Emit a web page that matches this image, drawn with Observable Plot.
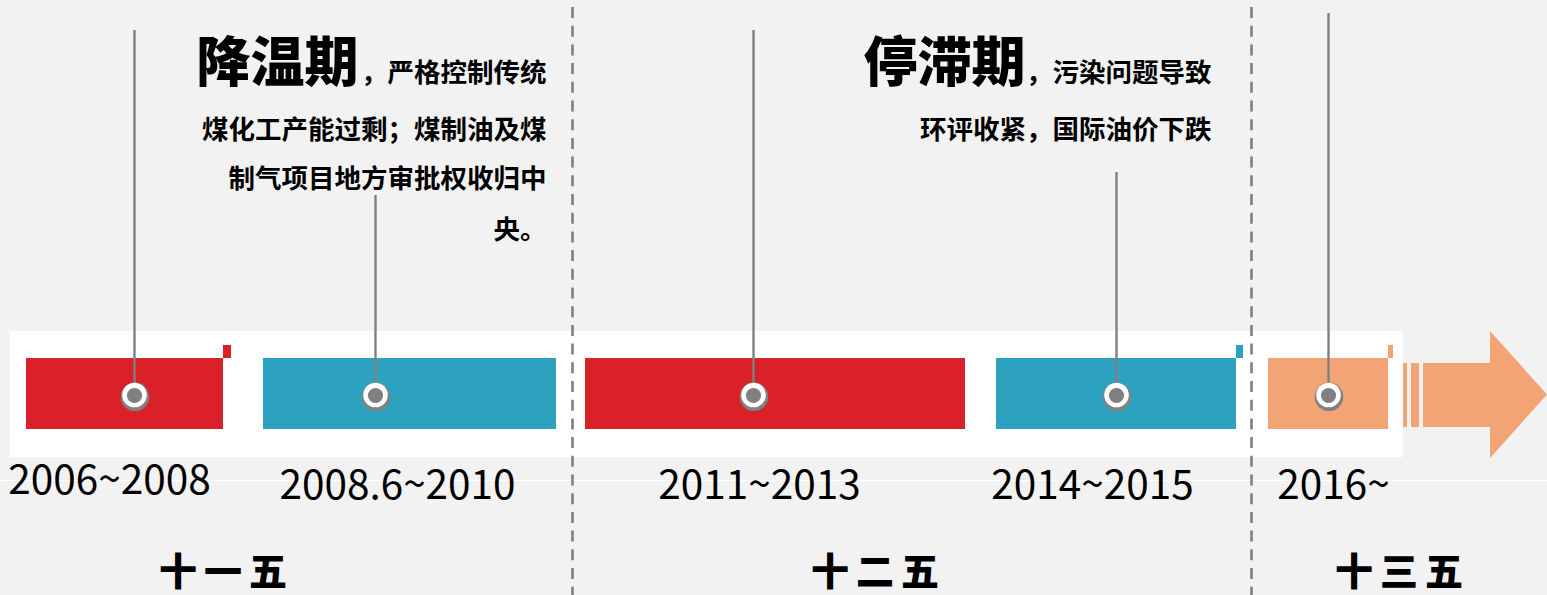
<!DOCTYPE html>
<html>
<head>
<meta charset="utf-8">
<script src="https://cdn.jsdelivr.net/npm/d3@7"></script>
<script src="https://cdn.jsdelivr.net/npm/@observablehq/plot@0.6"></script>
<style>
  html, body { margin: 0; padding: 0; background: #f2f2f2; overflow: hidden; }
  #chart svg { display: block; }
</style>
</head>
<body>
<div id="chart"></div>
<script>
// ---- data ----
const periods = ["2006~2008", "2008.6~2010", "2011~2013", "2014~2015", "2016~"];
const phase = ["降温", "调整", "停滞", "调整", "复苏"];
const periodStart = [26, 263, 585, 996, 1268];   // timeline units
const periodEnd = [223, 556, 965, 1236, 1388];
const pinAt = [134, 375, 753, 1116, 1328];
const pinTop = [30, 195, 30, 172, 13];
const labelAt = [109, 397, 759, 1092, 1333];
const labelBase = [493, 498, 498, 498, 498];
const flagPeriods = [0, 3, 4];
const flagWidth = [8, 7, 5];
const plans = ["十一五", "十二五", "十三五"];
const planCenter = [226, 878, 1402];
const planBreaks = [572, 1251];
const headTitles = ["降温期", "停滞期"];
const headLeft = [196, 863];
const headRight = [546, 1211];
const headLines = [
  ["，严格控制传统", "煤化工产能过剩；煤制油及煤", "制气项目地方审批权收归中", "央。"],
  ["，污染问题导致", "环评收紧，国际油价下跌"]
];
const lineBase = [81, 138, 187, 238];

// ---- layout ----
const W = 1547, H = 595;
const band = {x1: 10, x2: 1403, y1: 331, y2: 457};
const barTop = 358, barBottom = 429, flagTop = 345;
const dotY = 394.5;
const arrowStripes = [[1403, 1407], [1411, 1419]];
const arrowBody = {x1: 1423, x2: 1490, y1: 363, y2: 427};
const arrowHead = [{x: 1490, y1: 331, y2: 458}, {x: 1547, y1: 394.5, y2: 394.5}];
const gray = "#808080";
const cjk = "'Noto Sans CJK SC', 'Noto Sans CJK TC', sans-serif";
const orange = "#f3a474";

const idx = d3.range(periods.length);
const textRows = headLines.flatMap((lines, b) => lines.map((t, j) => ({t, x: headRight[b], y: lineBase[j]})));

const chart = Plot.plot({
  width: W, height: H, margin: 0,
  x: {domain: [0, W], range: [0, W], axis: null},
  y: {domain: [0, H], range: [0, H], axis: null},
  color: {domain: ["降温", "调整", "停滞", "复苏"], range: ["#da2029", "#2da2c0", "#da2029", orange]},
  style: {background: "#f2f2f2"},
  marks: [
    Plot.ruleY([480], {stroke: "#ffffff", strokeWidth: 1.2}),
    Plot.rect([band], {x1: "x1", x2: "x2", y1: "y1", y2: "y2", fill: "white"}),
    Plot.rect(idx, {x1: i => periodStart[i], x2: i => periodEnd[i], y1: barTop, y2: barBottom, fill: i => phase[i]}),
    Plot.rect(flagPeriods, {x1: i => periodEnd[i], x2: (i, k) => periodEnd[i] + flagWidth[k], y1: flagTop, y2: barTop, fill: i => phase[i]}),
    Plot.rect(arrowStripes, {x1: d => d[0], x2: d => d[1], y1: arrowBody.y1, y2: arrowBody.y2, fill: orange}),
    Plot.rect([arrowBody], {x1: "x1", x2: "x2", y1: "y1", y2: "y2", fill: orange}),
    Plot.area(arrowHead, {x1: "x", y1: "y1", y2: "y2", fill: orange}),
    Plot.ruleX(planBreaks, {y1: 7, y2: H, stroke: "#7f7f7f", strokeWidth: 2.6, strokeDasharray: "11,7.7"}),
    Plot.ruleX(idx, {x: i => pinAt[i], y1: i => pinTop[i], y2: dotY, stroke: gray, strokeWidth: 2.4}),
    Plot.dot(idx, {x: i => pinAt[i] + 0.5, y: dotY + 1.8, r: 14.3, fill: gray}),
    Plot.dot(idx, {x: i => pinAt[i], y: dotY, r: 12.3, fill: "white"}),
    Plot.dot(idx, {x: i => pinAt[i], y: dotY + 0.5, r: 7.6, fill: gray}),
    Plot.text(idx, {x: i => labelAt[i], y: i => labelBase[i], text: i => periods[i], textAnchor: "middle", lineAnchor: "bottom", fontSize: 40.5, fontFamily: cjk, fill: "#000"}),
    Plot.text(headTitles, {x: (d, i) => headLeft[i], y: lineBase[0], text: d => d, textAnchor: "start", lineAnchor: "bottom", fontSize: 54, fontWeight: 900, fontFamily: cjk, fill: "#000"}),
    Plot.text(textRows, {x: "x", y: "y", text: "t", textAnchor: "end", lineAnchor: "bottom", fontSize: 26.5, fontWeight: 700, fontFamily: cjk, fill: "#000"}),
    Plot.text(plans, {x: (d, i) => planCenter[i], y: 584, text: d => d, textAnchor: "middle", lineAnchor: "bottom", fontSize: 38, fontWeight: 900, fontFamily: cjk, fill: "#000"})
  ]
});

d3.select(chart).selectAll("text").filter(function() { return plans.includes(this.textContent); })
  .style("letter-spacing", "7px");

document.getElementById("chart").appendChild(chart);
</script>
</body>
</html>
